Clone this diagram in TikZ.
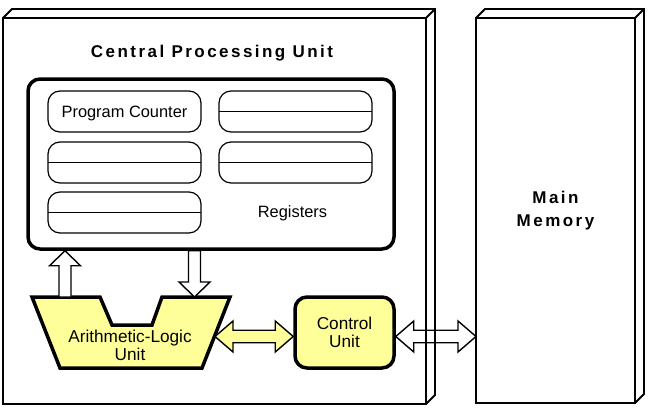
\documentclass[tikz,border=0pt]{standalone}
\usepackage{fontspec}
\setmainfont{Liberation Sans}
\newfontfamily\widesans[LetterSpace=14.5]{Liberation Sans}
\usetikzlibrary{calc}
\definecolor{unitfill}{RGB}{255,255,153}

\begin{document}
\begin{tikzpicture}[x=1pt,y=-1pt,
  box/.style={draw, line width=1.8pt, inner sep=0pt, outer sep=0pt},
  reg/.style={draw, line width=1.2pt, rounded corners=12pt, inner sep=0pt, outer sep=0pt,
    minimum width=153pt, minimum height=41pt},
  unit/.style={draw, line width=3.5pt, fill=unitfill},
  bigtext/.style={font={\widesans\bfseries\fontsize{17}{23}\selectfont}},
  regtext/.style={font={\fontsize{16.4}{18}\selectfont}},
  unittext/.style={font={\fontsize{17.2}{18}\selectfont}, align=center},
  sarrow/.style={draw, line width=1.4pt, line join=miter, to path={
    let \p1=($(\tikztotarget)!15pt!(\tikztostart)$) in
    ($(\tikztostart)!6pt!90:(\tikztotarget)$) -- ($(\p1)!6pt!90:(\tikztotarget)$)
    -- ($(\p1)!15.5pt!90:(\tikztotarget)$) -- (\tikztotarget)
    -- ($(\p1)!15.5pt!-90:(\tikztotarget)$) -- ($(\p1)!6pt!-90:(\tikztotarget)$)
    -- ($(\tikztostart)!6pt!-90:(\tikztotarget)$) -- cycle}},
  dbarrow/.style={draw, line width=1.4pt, line join=miter, to path={
    let \p1=($(\tikztostart)!18pt!(\tikztotarget)$),
        \p2=($(\tikztotarget)!18pt!(\tikztostart)$) in
    (\tikztostart) -- ($(\p1)!15.5pt!90:(\tikztotarget)$) -- ($(\p1)!6.25pt!90:(\tikztotarget)$)
    -- ($(\p2)!6.25pt!90:(\tikztotarget)$) -- ($(\p2)!15.5pt!90:(\tikztotarget)$)
    -- (\tikztotarget)
    -- ($(\p2)!15.5pt!-90:(\tikztotarget)$) -- ($(\p2)!6.25pt!-90:(\tikztotarget)$)
    -- ($(\p1)!6.25pt!-90:(\tikztotarget)$) -- ($(\p1)!15.5pt!-90:(\tikztotarget)$) -- cycle}}]
\useasboundingbox (0,0) rectangle (649,415);

% boxes
\node[box, minimum width=423pt, minimum height=386pt] (cpu) at (214.5,211) {};
\node[box, bigtext, align=center, minimum width=159pt, minimum height=385pt] (mem) at (555.5,210.5) {Main\\Memory};
\foreach \b in {cpu,mem}
{
    \draw[line width=1.8pt, line join=miter] (\b.north west) -- ++(9,-9) -- ($(\b.north east)+(9,-9)$)
        -- ($(\b.south east)+(9,-9)$) -- (\b.south east);
    \draw[line width=1.8pt] (\b.north east) -- ++(9,-9);
}
\node[bigtext, anchor=base] (cputitle) at (212,57) {Central Processing Unit};

% registers
\node[draw, line width=3.5pt, rounded corners=12pt, inner sep=0pt, minimum width=366pt, minimum height=170pt] (regs) at (211,164) {};
\node[reg, regtext, text depth=0pt] (pc) at (124.5,111.5) {Program Counter};
\foreach \n/\x/\y in {r1/295.5/111.5, r2/124.5/162.5, r3/295.5/162.5, r4/124.5/212.5}
{
    \node[reg] (\n) at (\x,\y) {};
    \draw[line width=1.2pt] (\n.west) -- (\n.east);
}
\node[regtext, anchor=base] (reglabel) at (292.5,217) {Registers};

% alu and control
\draw[unit, line join=miter] (32,297) -- (100,297) -- (112,325) -- (152,325) -- (162,297)
    -- (230,297) -- (202,368) -- (60,368) -- cycle;
\node[unittext] (alu) at (130,345) {Arithmetic-Logic\\Unit};
\node[unit, unittext, rounded corners=12pt, inner sep=0pt, minimum width=99pt, minimum height=71pt] (cu) at (344.5,332.5) {Control\\Unit};

% buses
\coordinate (aluup) at (65,297);
\coordinate (aludown) at (194.5,297);
\coordinate (alubus) at (215,336.5);
\draw[sarrow, fill=white] (aluup) to (aluup |- regs.south);
\draw[sarrow, fill=white] (aludown |- regs.south) to (aludown);
\draw[dbarrow, fill=unitfill] (alubus) to (alubus -| cu.west);
\draw[dbarrow] (alubus -| cu.east) to (alubus -| mem.west);

\end{tikzpicture}
\end{document}
